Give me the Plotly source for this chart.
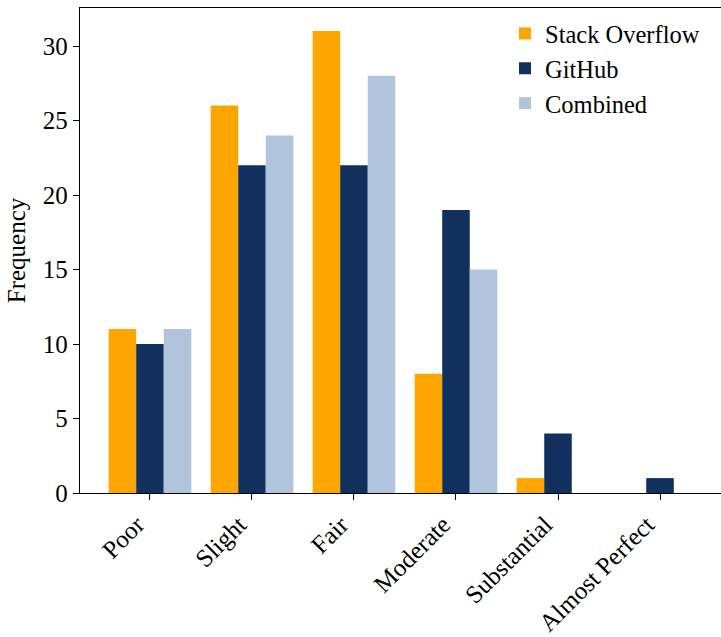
import plotly.graph_objects as go

categories = ["Poor", "Slight", "Fair", "Moderate", "Substantial", "Almost Perfect"]
stack_overflow = [11, 26, 31, 8, 1, 0]
github = [10, 22, 22, 19, 4, 1]
combined = [11, 24, 28, 15, 0, 0]
series_names = ["Stack Overflow", "GitHub", "Combined"]
colors = ["#FFA500", "#11305E", "#B0C4DE"]
y_ticks = [0, 5, 10, 15, 20, 25, 30]

W = 0.27
xs = list(range(len(categories)))
fig = go.Figure()
for k, (name, vals, col) in enumerate(zip(series_names, [stack_overflow, github, combined], colors)):
    fig.add_trace(go.Bar(
        x=[x + (k - 1) * W for x in xs], y=vals, width=W, name=name,
        marker=dict(color=col, line=dict(width=0)),
    ))

FONT = "Liberation Serif, Times New Roman, serif"
FS = 25
fig.update_layout(
    width=721, height=637,
    margin=dict(l=80, r=0, t=8, b=144, autoexpand=False),
    plot_bgcolor="white", paper_bgcolor="white",
    font=dict(family=FONT, size=FS, color="black"),
    barmode="overlay",
    showlegend=True,
    legend=dict(
        x=(505 - 80) / 641, y=1 - 3 / 485, xanchor="left", yanchor="top",
        font=dict(size=24.5), bgcolor="rgba(0,0,0,0)", tracegroupgap=0,
        itemwidth=30,
    ),
    xaxis=dict(
        range=[-0.686, 5.598], tickmode="array", tickvals=xs, ticktext=categories,
        tickangle=-45, ticks="outside", ticklen=6, tickwidth=1.3, tickcolor="black",
        showline=True, linecolor="black", linewidth=1.3, mirror=True,
        showgrid=False, zeroline=False, tickfont=dict(size=FS), automargin=False,
        ticklabelshift=-13,
    ),
    yaxis=dict(
        range=[0, 32.55], tickmode="array", tickvals=y_ticks,
        ticks="outside", ticklen=6, tickwidth=1.3, tickcolor="black",
        showline=True, linecolor="black", linewidth=1.3,
        showgrid=False, zeroline=False, tickfont=dict(size=FS), automargin=False,
        title=dict(text="Frequency", font=dict(size=FS), standoff=10),
    ),
)
fig.write_html("out.html")
